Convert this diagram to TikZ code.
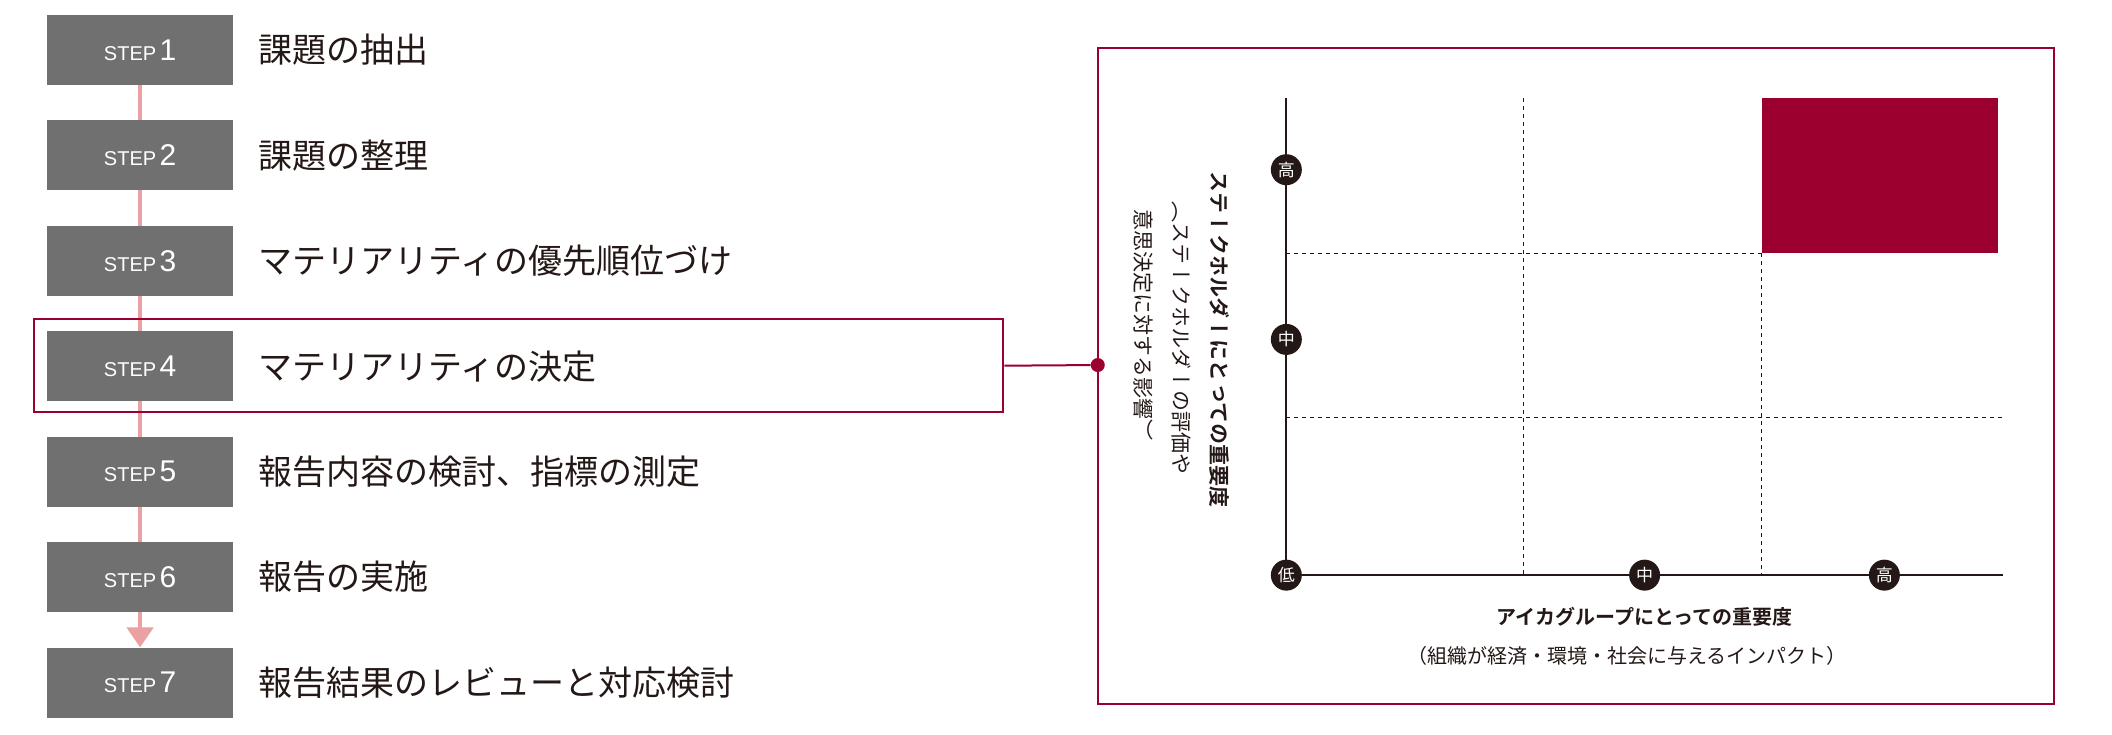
\documentclass[tikz,border=0pt]{standalone}
\usepackage{fontspec}
\setmainfont{Noto Sans CJK JP}
\newfontfamily\jpbold{Noto Sans CJK JP Bold}
\newfontfamily\tate[Vertical=RotatedGlyphs]{Noto Sans CJK JP}
\newfontfamily\tatebold[Vertical=RotatedGlyphs]{Noto Sans CJK JP Bold}
\newfontfamily\latin{Liberation Sans}
\usetikzlibrary{arrows.meta,backgrounds}
\definecolor{stepgray}{HTML}{707070}
\definecolor{flowpink}{HTML}{EBA0A3}
\definecolor{matred}{HTML}{9B002E}
\definecolor{ink}{HTML}{231815}
\tikzset{
  stepbox/.style={fill=stepgray, text=white, minimum width=186pt, minimum height=70pt, inner sep=0pt},
  steptext/.style={anchor=west, text=ink, font=\fontsize{34}{38}\selectfont, inner sep=0pt},
  grid/.style={dashed, ink, line width=1pt, dash pattern=on 4pt off 4pt},
  level/.style={circle, fill=ink, text=white, minimum size=31pt, inner sep=0pt, font=\fontsize{17}{17}\selectfont}
}
\begin{document}
\begin{tikzpicture}[x=1.347pt, y=-1.347pt]
  \useasboundingbox (0,0) rectangle (1568,545);

  % steps
  \foreach \n/\t in {1/課題の抽出, 2/課題の整理, 3/マテリアリティの優先順位づけ,
      4/マテリアリティの決定, 5/報告内容の検討、指標の測定, 6/報告の実施,
      7/報告結果のレビューと対応検討}{
    \pgfmathsetmacro\yy{37+78.3*(\n-1)}
    \node[stepbox] (s\n) at (104,\yy) {\latin\fontsize{20}{20}\selectfont STEP\,\fontsize{30}{30}\selectfont\n};
    \node[steptext] (t\n) at (192,\yy) {\t};
  }
  \begin{scope}[on background layer]
    \draw[flowpink, line width=4.5pt, -{Triangle[width=26pt,length=20pt]}] (s1.south) -- (s7.north);
  \end{scope}

  % highlight
  \node[draw=matred, line width=2pt, minimum width=720*1.347pt, minimum height=69*1.347pt] (hl) at (385,271.5) {};
  \node[circle, fill=matred, minimum size=14pt, inner sep=0pt] (dot) at (815,271) {};
  \draw[matred, line width=2pt] (hl.east) -- (dot);

  % matrix frame
  \draw[matred, line width=2pt] (815,36) rectangle (1525,523);
  \fill[matred] (1308,73) rectangle (1483,188);
  \draw[grid] (1131,73) -- (1131,427);
  \draw[grid] (1308,188) -- (1308,427);
  \draw[grid] (955,188) -- (1308,188);
  \draw[grid] (955,310) -- (1487,310);
  \coordinate (top) at (955,73);
  \coordinate (o) at (955,427);
  \coordinate (right) at (1487,427);
  \draw[ink, line width=2pt] (top) -- (o) -- (right);

  \node[level] (yh) at (955,126) {高};
  \node[level] (ym) at (955,252) {中};
  \node[level] (lo) at (o) {低};
  \node[level] (xm) at (1221,427) {中};
  \node[level] (xh) at (1399,427) {高};

  % axis labels
  \node[rotate=-90, text=ink, font=\tatebold\fontsize{21}{21}\selectfont] (ylab) at (905,252) {ステークホルダーにとっての重要度};
  \node[rotate=-90, text=ink, anchor=west, font=\tate\fontsize{21}{21}\selectfont] (ysub1) at (877,147) {（ステークホルダーの評価や};
  \node[rotate=-90, text=ink, anchor=west, font=\tate\fontsize{21}{21}\selectfont] (ysub2) at (849,153) {意思決定に対する影響）};
  \node[text=ink, font=\jpbold\fontsize{20}{20}\selectfont] (xlab) at (1221,458) {アイカグループにとっての重要度};
  \node[text=ink, font=\fontsize{20}{20}\selectfont] (xsub) at (1208,487) {（組織が経済・環境・社会に与えるインパクト）};
\end{tikzpicture}
\end{document}
